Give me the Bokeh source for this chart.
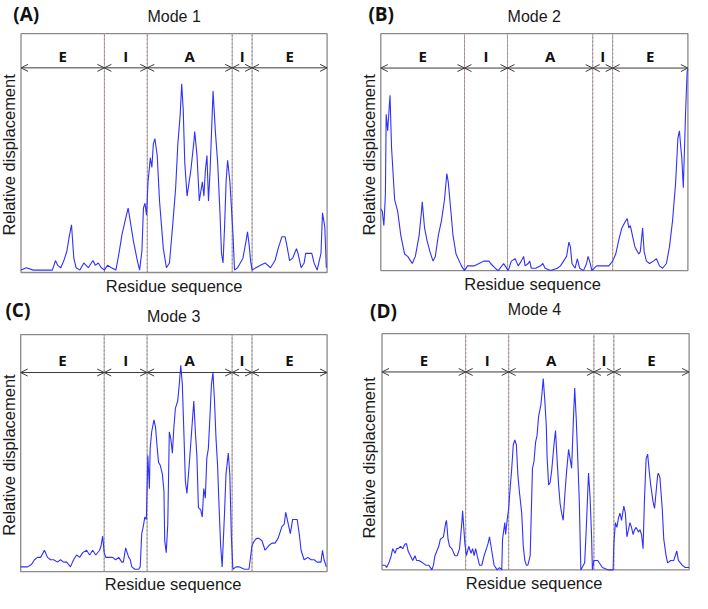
import math
from bokeh.plotting import figure
from bokeh.layouts import gridplot
from bokeh.models import Range1d, Arrow, OpenHead
from bokeh.core.properties import value
from bokeh.embed import file_html
from bokeh.resources import INLINE

# ---------------- data ----------------
mode_titles = ["Mode 1", "Mode 2", "Mode 3", "Mode 4"]
panel_tags = ["(A)", "(B)", "(C)", "(D)"]
x_title = "Residue sequence"
y_title = "Relative displacement"
region_names = ["E", "I", "A", "I", "E"]
region_bounds = [0, 109, 165, 276, 302, 400]
y_domain = [0, 1]

mode1_x = [0, 7, 16, 41, 45, 48, 52, 56, 60, 63, 66, 69, 72, 77, 82, 85, 88, 94, 97, 101,
           105, 109, 113, 118, 124, 128, 132, 137, 140, 143, 147, 152, 155, 158, 160, 162, 164, 166, 169, 171,
           173, 175, 178, 181, 186, 190, 194, 198, 202, 205, 208, 210, 212, 214, 217, 222, 226, 227, 230, 233,
           237, 239, 241, 243, 245, 247, 249, 251, 254, 257, 260, 262, 264, 266, 268, 270, 273, 275, 277, 279,
           283, 290, 294, 296, 298, 300, 302, 307, 313, 319, 326, 332, 336, 341, 345, 347, 351, 355, 360, 362,
           366, 370, 372, 377, 380, 383, 387, 392, 394, 397, 399]
mode1_y = [0.01, 0.02, 0.01, 0.01, 0.05, 0.03, 0.02, 0.05, 0.09, 0.15, 0.20, 0.06, 0.02, 0.01, 0.04, 0.03, 0.02, 0.05, 0.03, 0.04,
           0.02, 0.01, 0.03, 0.02, 0.01, 0.08, 0.16, 0.23, 0.27, 0.21, 0.13, 0.05, 0.01, 0.09, 0.27, 0.29, 0.24, 0.38, 0.48, 0.44,
           0.54, 0.56, 0.49, 0.30, 0.10, 0.02, 0.04, 0.19, 0.35, 0.54, 0.66, 0.79, 0.68, 0.46, 0.32, 0.43, 0.55, 0.59, 0.49, 0.30,
           0.38, 0.32, 0.43, 0.49, 0.30, 0.42, 0.59, 0.76, 0.59, 0.46, 0.25, 0.08, 0.04, 0.19, 0.38, 0.47, 0.38, 0.27, 0.16, 0.01,
           0.02, 0.06, 0.13, 0.17, 0.12, 0.05, 0.01, 0.02, 0.03, 0.04, 0.02, 0.05, 0.10, 0.15, 0.15, 0.12, 0.05, 0.06, 0.10, 0.08,
           0.02, 0.04, 0.08, 0.08, 0.08, 0.04, 0.01, 0.08, 0.25, 0.19, 0.02]

mode2_x = [0, 2, 4, 6, 7, 9, 12, 14, 16, 18, 22, 26, 31, 35, 39, 41, 45, 50, 53, 54,
           57, 60, 64, 68, 71, 75, 79, 83, 86, 88, 91, 94, 98, 105, 109, 113, 122, 128, 134, 141,
           143, 149, 153, 160, 162, 166, 170, 175, 179, 183, 186, 188, 192, 194, 196, 202, 208, 211, 214, 221,
           230, 234, 238, 242, 245, 247, 249, 253, 256, 259, 264, 268, 270, 272, 275, 281, 289, 297, 302, 306,
           310, 314, 319, 321, 323, 325, 329, 331, 336, 338, 341, 343, 346, 350, 355, 359, 363, 367, 372, 376,
           380, 384, 387, 389, 391, 392, 394, 396, 397, 399, 400]
mode2_y = [0.26, 0.25, 0.19, 0.32, 0.66, 0.59, 0.74, 0.52, 0.41, 0.30, 0.25, 0.15, 0.07, 0.06, 0.04, 0.03, 0.06, 0.15, 0.25, 0.29,
           0.18, 0.13, 0.08, 0.04, 0.06, 0.15, 0.21, 0.30, 0.41, 0.37, 0.26, 0.15, 0.07, 0.02, 0.00, 0.02, 0.02, 0.03, 0.04, 0.04,
           0.03, 0.01, 0.00, 0.03, 0.02, 0.00, 0.04, 0.05, 0.02, 0.04, 0.06, 0.02, 0.03, 0.04, 0.01, 0.01, 0.02, 0.03, 0.01, 0.00,
           0.01, 0.02, 0.04, 0.06, 0.12, 0.10, 0.03, 0.01, 0.05, 0.01, 0.00, 0.03, 0.06, 0.04, 0.00, 0.02, 0.02, 0.02, 0.04, 0.07,
           0.13, 0.18, 0.21, 0.22, 0.18, 0.19, 0.13, 0.10, 0.07, 0.08, 0.18, 0.08, 0.04, 0.03, 0.04, 0.05, 0.02, 0.01, 0.03, 0.10,
           0.21, 0.37, 0.56, 0.59, 0.51, 0.48, 0.35, 0.56, 0.67, 0.84, 0.85]

mode3_x = [0, 5, 9, 14, 18, 22, 26, 31, 35, 39, 43, 48, 52, 56, 60, 65, 69, 73, 77, 81,
           86, 90, 94, 98, 103, 105, 107, 109, 111, 115, 120, 124, 128, 132, 134, 137, 139, 141, 143, 145,
           149, 154, 156, 158, 160, 162, 164, 166, 168, 169, 171, 174, 176, 178, 180, 182, 185, 187, 188, 190,
           192, 194, 196, 198, 200, 202, 205, 207, 209, 211, 213, 215, 217, 220, 222, 224, 226, 228, 230, 232,
           235, 237, 239, 241, 243, 245, 247, 249, 251, 253, 255, 257, 259, 261, 263, 266, 268, 271, 273, 275,
           277, 281, 285, 292, 298, 302, 305, 308, 311, 315, 319, 324, 328, 332, 336, 341, 344, 346, 348, 350,
           352, 355, 359, 361, 364, 366, 370, 375, 379, 383, 387, 392, 394, 396, 399]
mode3_y = [0.02, 0.02, 0.02, 0.03, 0.05, 0.06, 0.06, 0.09, 0.06, 0.05, 0.05, 0.04, 0.05, 0.04, 0.04, 0.02, 0.05, 0.07, 0.06, 0.08,
           0.09, 0.07, 0.09, 0.07, 0.09, 0.11, 0.15, 0.08, 0.06, 0.06, 0.06, 0.05, 0.06, 0.04, 0.04, 0.10, 0.08, 0.06, 0.05, 0.02,
           0.01, 0.01, 0.02, 0.16, 0.19, 0.23, 0.22, 0.49, 0.35, 0.52, 0.59, 0.64, 0.61, 0.53, 0.46, 0.45, 0.41, 0.34, 0.13, 0.08,
           0.20, 0.59, 0.56, 0.50, 0.61, 0.69, 0.72, 0.79, 0.87, 0.79, 0.59, 0.38, 0.33, 0.45, 0.54, 0.63, 0.72, 0.59, 0.49, 0.27,
           0.26, 0.23, 0.35, 0.31, 0.48, 0.52, 0.65, 0.79, 0.84, 0.72, 0.56, 0.45, 0.27, 0.11, 0.02, 0.24, 0.41, 0.50, 0.41, 0.15,
           0.01, 0.02, 0.02, 0.01, 0.01, 0.11, 0.13, 0.14, 0.14, 0.13, 0.09, 0.11, 0.12, 0.12, 0.14, 0.19, 0.20, 0.25, 0.22, 0.19,
           0.16, 0.22, 0.22, 0.22, 0.15, 0.09, 0.05, 0.06, 0.05, 0.05, 0.04, 0.04, 0.09, 0.05, 0.02]

mode4_x = [0, 4, 6, 9, 12, 14, 17, 19, 21, 24, 27, 30, 32, 34, 37, 40, 43, 45, 48, 53,
           57, 61, 65, 67, 69, 74, 76, 80, 83, 84, 86, 88, 91, 95, 98, 101, 104, 105, 108, 110,
           113, 116, 118, 120, 122, 124, 127, 130, 133, 136, 138, 140, 142, 144, 146, 150, 153, 156, 157, 160,
           161, 163, 165, 167, 169, 171, 173, 175, 177, 179, 182, 184, 186, 188, 190, 193, 196, 198, 200, 202,
           204, 207, 209, 210, 212, 214, 215, 217, 219, 221, 224, 226, 228, 230, 232, 234, 236, 238, 240, 243,
           245, 247, 249, 251, 253, 255, 257, 259, 264, 266, 268, 269, 271, 273, 274, 276, 281, 287, 295, 301,
           302, 304, 306, 308, 310, 312, 315, 317, 319, 321, 323, 325, 327, 329, 331, 334, 336, 338, 340, 342,
           344, 346, 348, 350, 353, 355, 357, 359, 360, 362, 365, 367, 370, 372, 376, 380, 384, 386, 391, 395, 400]
mode4_y = [0.02, 0.02, 0.01, 0.03, 0.06, 0.09, 0.07, 0.09, 0.09, 0.10, 0.09, 0.11, 0.11, 0.08, 0.06, 0.04, 0.06, 0.04, 0.04, 0.03,
           0.02, 0.02, 0.00, 0.02, 0.06, 0.10, 0.13, 0.14, 0.20, 0.21, 0.13, 0.10, 0.09, 0.06, 0.06, 0.09, 0.20, 0.25, 0.11, 0.06,
           0.10, 0.07, 0.09, 0.06, 0.09, 0.06, 0.02, 0.02, 0.06, 0.09, 0.11, 0.14, 0.10, 0.06, 0.02, 0.00, 0.01, 0.00, 0.13, 0.20,
           0.15, 0.21, 0.26, 0.35, 0.43, 0.53, 0.55, 0.53, 0.40, 0.33, 0.24, 0.10, 0.04, 0.02, 0.02, 0.06, 0.43, 0.46, 0.54, 0.57,
           0.65, 0.70, 0.77, 0.81, 0.72, 0.61, 0.48, 0.36, 0.37, 0.42, 0.53, 0.59, 0.47, 0.36, 0.28, 0.24, 0.21, 0.31, 0.40, 0.51,
           0.47, 0.43, 0.61, 0.77, 0.64, 0.47, 0.29, 0.00, 0.03, 0.17, 0.33, 0.41, 0.31, 0.14, 0.00, 0.04, 0.04, 0.01, 0.00, 0.00,
           0.11, 0.20, 0.18, 0.22, 0.24, 0.21, 0.27, 0.24, 0.14, 0.17, 0.20, 0.18, 0.15, 0.17, 0.18, 0.16, 0.17, 0.15, 0.09, 0.31,
           0.47, 0.49, 0.42, 0.36, 0.29, 0.26, 0.33, 0.40, 0.41, 0.39, 0.26, 0.13, 0.06, 0.03, 0.04, 0.04, 0.08, 0.04, 0.02, 0.01, 0.01]

series_x = [mode1_x, mode2_x, mode3_x, mode4_x]
series_y = [mode1_y, mode2_y, mode3_y, mode4_y]

# ---------------- layout (pixels inside each panel figure) ----------------
FIG_W = 346
layouts = [
    dict(h=296, box=(20.5, 326.6, 33.2, 272.0), tag=(12.7, 13.0), title=(173.6, 15.9),
         xlab=(173.6, 285.0), ylab=(8.3, 154.4), arrow_y=0.857, letter_y=0.906),
    dict(h=296, box=(34.3, 341.4, 33.2, 270.1), tag=(21.9, 13.0), title=(187.8, 16.3),
         xlab=(186.1, 283.4), ylab=(22.7, 154.4), arrow_y=0.855, letter_y=0.906),
    dict(h=297, box=(20.2, 326.6, 38.1, 275.1), tag=(4.9, 13.5), title=(173.1, 20.4),
         xlab=(172.7, 287.4), ylab=(8.3, 158.5), arrow_y=0.840, letter_y=0.894),
    dict(h=297, box=(35.5, 342.6, 37.2, 273.4), tag=(23.5, 14.3), title=(188.0, 12.5),
         xlab=(187.6, 286.7), ylab=(22.7, 161.4), arrow_y=0.838, letter_y=0.890),
]

LINE_COLOR = "#3030ff"
FRAME_COLOR = "#8a8a8a"
TEXT_COLOR = "#1a1a1a"
SANS = "Liberation Sans"


def make_panel(i):
    lay = layouts[i]
    H = lay["h"]
    bl, br, bt, bb = lay["box"]
    xa, xb = region_bounds[0], region_bounds[-1]
    ya, yb = y_domain
    kx = (xb - xa) / (br - bl)
    ky = (yb - ya) / (bb - bt)
    x_range = Range1d(xa - bl * kx, xb + (FIG_W - br) * kx)
    y_range = Range1d(ya - (H - bb) * ky, yb + bt * ky)

    def to_data(px, py):
        return xa + (px - bl) * kx, yb - (py - bt) * ky

    p = figure(width=FIG_W, height=H, x_range=x_range, y_range=y_range,
               output_backend="svg", toolbar_location=None, tools="",
               x_axis_location=None, y_axis_location=None,
               min_border=0, min_border_left=0, min_border_right=0,
               min_border_top=0, min_border_bottom=0)
    p.outline_line_color = None
    p.xgrid.visible = False
    p.ygrid.visible = False
    p.background_fill_color = "white"
    p.border_fill_color = "white"

    # plot box
    p.quad(left=[xa], right=[xb], bottom=[ya], top=[yb], fill_color=None,
           line_color=FRAME_COLOR, line_width=1.3)

    # region dividers (two-tone dotted)
    inner = region_bounds[1:-1]
    p.segment(x0=inner, y0=[ya] * len(inner), x1=inner, y1=[yb] * len(inner),
              line_color="#7fc4c4", line_width=1)
    p.segment(x0=inner, y0=[ya] * len(inner), x1=inner, y1=[yb] * len(inner),
              line_color="#e06a6a", line_width=1, line_dash="2 2")

    # region arrows
    for a, b in zip(region_bounds[:-1], region_bounds[1:]):
        p.add_layout(Arrow(x_start=a, x_end=b, y_start=lay["arrow_y"], y_end=lay["arrow_y"],
                           line_color="#3a3a3a", line_width=1,
                           start=OpenHead(size=7, line_color="#3a3a3a", line_width=1),
                           end=OpenHead(size=7, line_color="#3a3a3a", line_width=1)))

    mids = [(a + b) / 2 for a, b in zip(region_bounds[:-1], region_bounds[1:])]
    p.text(x=mids, y=[lay["letter_y"]] * len(mids), text=region_names,
           text_font=value("Open Sans"), text_font_style="bold", text_font_size="15px",
           text_align="center", text_baseline="middle", text_color="#111111")

    # the curve
    p.line(series_x[i], series_y[i], line_color=LINE_COLOR, line_width=1.1)

    # texts around the box
    tx, ty = to_data(*lay["title"])
    p.text(x=[tx], y=[ty], text=[mode_titles[i]], text_font=value(SANS), text_font_size="16px",
           text_align="center", text_baseline="middle", text_color=TEXT_COLOR)
    gx, gy = to_data(*lay["tag"])
    p.text(x=[gx], y=[gy], text=[panel_tags[i]], text_font=value("Open Sans"),
           text_font_style="bold", text_font_size="19px",
           text_align="left", text_baseline="middle", text_color="#111111")
    lx, ly = to_data(*lay["xlab"])
    p.text(x=[lx], y=[ly], text=[x_title], text_font=value(SANS), text_font_size="16.5px",
           text_align="center", text_baseline="middle", text_color=TEXT_COLOR)
    vx, vy = to_data(*lay["ylab"])
    p.text(x=[vx], y=[vy], text=[y_title], text_font=value(SANS), text_font_size="16.5px",
           angle=math.pi / 2, text_align="center", text_baseline="middle", text_color=TEXT_COLOR)
    return p


panels = [make_panel(i) for i in range(4)]
grid = gridplot([[panels[0], panels[1]], [panels[2], panels[3]]], toolbar_location=None)

open("out.html", "w").write(file_html(grid, INLINE))
